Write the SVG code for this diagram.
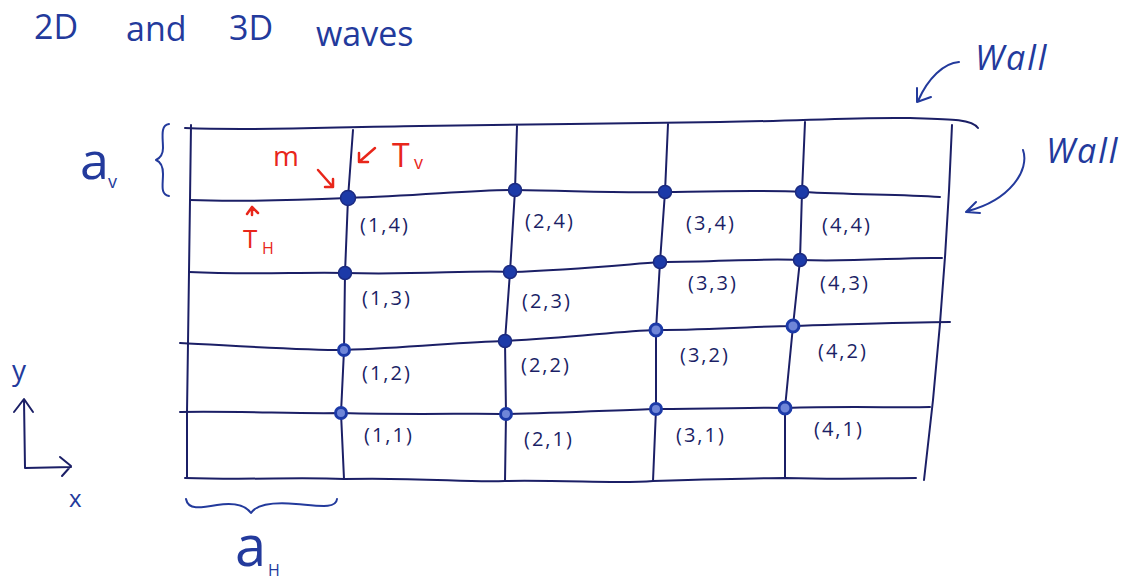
<svg xmlns="http://www.w3.org/2000/svg" width="1130" height="583" viewBox="0 0 1130 583">
<defs>
<style>
.g{fill:none;stroke:#1b1f66;stroke-width:2;stroke-linecap:round;stroke-linejoin:round}
.b{fill:none;stroke:#233a9c;stroke-width:2;stroke-linecap:round;stroke-linejoin:round}
.r{fill:none;stroke:#e8261a;stroke-width:2.5;stroke-linecap:round;stroke-linejoin:round}
.t{font-family:"Open Sans","Liberation Sans",sans-serif;fill:#233a9c}
.lbl{font-family:"Open Sans","Liberation Sans",sans-serif;fill:#1b1f66;font-size:20px;letter-spacing:2px}
.red{font-family:"Open Sans","Liberation Sans",sans-serif;fill:#e8261a}
.dot{fill:#1c3aa8;stroke:#1b2a80;stroke-width:1.5}
.ring{fill:#6f86d8;stroke:#1c3aa8;stroke-width:3}
</style>
</defs>
<rect width="1130" height="583" fill="#ffffff"/>

<!-- title -->
<g id="title" class="t" font-size="34">
<text x="34" y="39">2D</text>
<text x="126" y="41">and</text>
<text x="229" y="40">3D</text>
<text x="316" y="46">waves</text>
</g>

<!-- connectors: grid lines and walls -->
<g id="connectors">
<path class="g" d="M185,128 C260,131 330,127 420,126 C520,125 620,123 720,122 C800,121 850,117 910,118 C950,119 972,119 978,128"/>
<path class="g" d="M191,125 L190,200 L189,272 L188,343 L187,412 L187,478"/>
<path class="g" d="M353,130 L348,198 L345,273 L344,350 L341,413 L344,479"/>
<path class="g" d="M517,126 L515,190 L510,272 L505,341 L506,414 L505,481"/>
<path class="g" d="M668,124 L665,192 L660,262 L656,330 L656,409 L653,481"/>
<path class="g" d="M805,122 L802,192 L800,260 L793,326 L785,408 L785,478"/>
<path class="g" d="M952,125 C948,230 940,330 933,400 L924,480"/>
<path class="g" d="M190,200 C240,202 300,200 348,198 C420,196 470,190 515,190 C580,191 620,193 665,192 C730,191 770,190 802,192 C860,195 900,194 940,197"/>
<path class="g" d="M189,272 C250,275 300,272 345,273 C420,275 470,270 510,272 C570,270 620,265 660,262 C720,262 760,258 800,260 C860,262 900,257 942,258"/>
<path class="g" d="M180,343 C240,346 300,350 344,350 C410,348 460,342 505,341 C570,338 620,331 656,330 C720,330 760,326 793,326 C860,324 910,322 950,322"/>
<path class="g" d="M180,412 C240,411 300,414 341,413 C420,415 470,413 506,414 C560,413 620,410 656,409 C720,409 760,407 785,408 C850,406 900,408 930,407"/>
<path class="g" d="M185,478 C250,480 300,477 344,479 C420,477 470,483 505,481 C570,480 620,484 653,481 C720,479 760,478 785,478 C850,480 890,478 916,478"/>
</g>

<!-- nodes -->
<g id="n14"><circle class="dot" cx="348" cy="198" r="7.5"/><text class="lbl" x="360" y="232">(1,4)</text></g>
<g id="n24"><circle class="dot" cx="515" cy="190" r="6.5"/><text class="lbl" x="525" y="228">(2,4)</text></g>
<g id="n34"><circle class="dot" cx="665" cy="192" r="6.5"/><text class="lbl" x="686" y="230">(3,4)</text></g>
<g id="n44"><circle class="dot" cx="802" cy="192" r="6.5"/><text class="lbl" x="822" y="232">(4,4)</text></g>
<g id="n13"><circle class="dot" cx="345" cy="273" r="6.5"/><text class="lbl" x="362" y="305">(1,3)</text></g>
<g id="n23"><circle class="dot" cx="510" cy="272" r="6.5"/><text class="lbl" x="522" y="308">(2,3)</text></g>
<g id="n33"><circle class="dot" cx="660" cy="262" r="6.5"/><text class="lbl" x="688" y="290">(3,3)</text></g>
<g id="n43"><circle class="dot" cx="800" cy="260" r="6.5"/><text class="lbl" x="820" y="290">(4,3)</text></g>
<g id="n12"><circle class="ring" cx="344" cy="350" r="5.5"/><text class="lbl" x="362" y="380">(1,2)</text></g>
<g id="n22"><circle class="dot" cx="505" cy="341" r="6.5"/><text class="lbl" x="521" y="372">(2,2)</text></g>
<g id="n32"><circle class="ring" cx="656" cy="330" r="6"/><text class="lbl" x="680" y="362">(3,2)</text></g>
<g id="n42"><circle class="ring" cx="793" cy="326" r="6"/><text class="lbl" x="818" y="358">(4,2)</text></g>
<g id="n11"><circle class="ring" cx="341" cy="413" r="5.5"/><text class="lbl" x="364" y="442">(1,1)</text></g>
<g id="n21"><circle class="ring" cx="506" cy="414" r="5.5"/><text class="lbl" x="524" y="446">(2,1)</text></g>
<g id="n31"><circle class="ring" cx="656" cy="409" r="5.5"/><text class="lbl" x="676" y="442">(3,1)</text></g>
<g id="n41"><circle class="ring" cx="785" cy="408" r="6"/><text class="lbl" x="814" y="436">(4,1)</text></g>

<!-- wall labels -->
<g id="wall-top">
<text class="t" x="975" y="70" font-size="34" font-style="italic" letter-spacing="2">Wall</text>
<path class="b" d="M959,62 C944,63 928,78 918,101 M917,88 L917,102 L931,97"/>
</g>
<g id="wall-right">
<text class="t" x="1046" y="163" font-size="34" font-style="italic" letter-spacing="2">Wall</text>
<path class="b" d="M1023,150 C1030,170 1010,200 968,211 M976,202 L966,212 L980,213"/>
</g>

<!-- a_v and brace -->
<g id="av">
<text class="t" x="80" y="179" font-size="52">a</text>
<text class="t" x="108" y="188" font-size="18">v</text>
<path class="b" d="M169,124 C160,125 163,138 163,148 C163,155 160,158 156,160 C161,162 163,166 163,174 C163,185 160,194 169,196"/>
</g>

<!-- red annotations -->
<g id="m">
<text class="red" x="273" y="166" font-size="28">m</text>
<path class="r" d="M318,170 L333,187 M325,187 L333,187 L333,179"/>
</g>
<g id="Tv">
<text class="red" x="392" y="167" font-size="32">T</text>
<text class="red" x="414" y="169" font-size="18">v</text>
<path class="r" d="M375,148 L359,162 M359,153 L359,162 L368,162"/>
</g>
<g id="TH">
<path class="r" d="M247,214 L252,207 L258,213 M252,207 L252,215" stroke-width="2"/>
<text class="red" x="243" y="248" font-size="26">T</text>
<text class="red" x="262" y="254" font-size="16">H</text>
</g>

<!-- axes -->
<g id="axes">
<text class="t" x="12" y="380" font-size="28">y</text>
<path class="g" d="M24,400 L25,468 L71,467 M14,412 L24,399 L33,412 M60,457 L71,466 L62,476"/>
<text class="t" x="69" y="507" font-size="24">x</text>
</g>

<!-- a_H and brace -->
<g id="aH">
<path class="b" d="M186,499 C188,510 200,508 217,505 C236,502 246,506 251,513 C256,505 272,502 296,504 C320,506 336,509 337,499"/>
<text class="t" x="235" y="566" font-size="56">a</text>
<text class="t" x="268" y="576" font-size="16">H</text>
</g>
</svg>
